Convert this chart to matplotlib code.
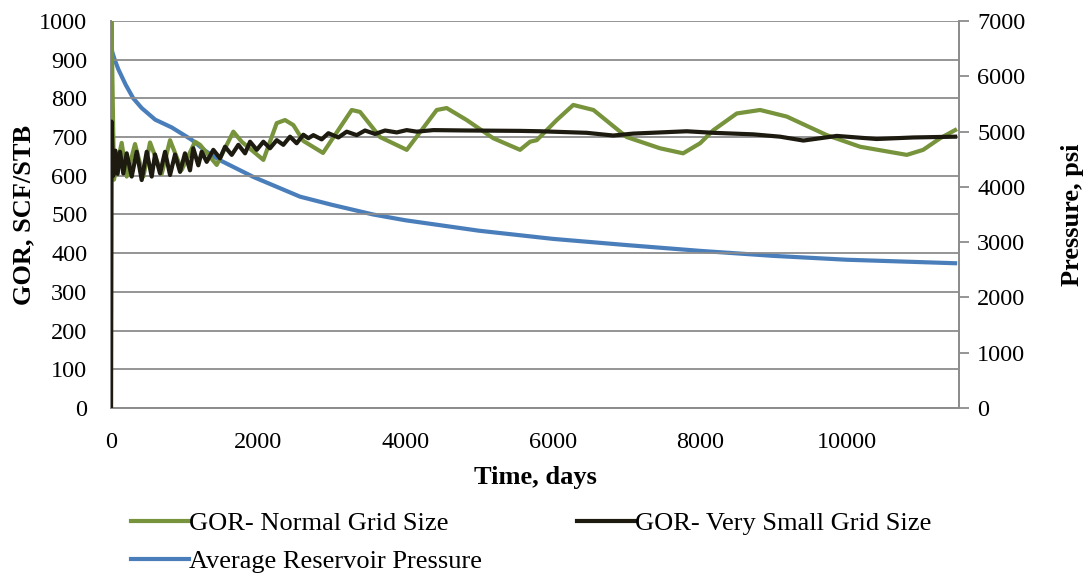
import matplotlib
matplotlib.use("Agg")
import matplotlib.pyplot as plt

plt.rcParams['font.family'] = ['Liberation Serif', 'DejaVu Serif']

# GOR - normal grid size (days, SCF/STB)
t_normal = [0, 3, 40, 145, 213, 326, 440, 530, 689, 802, 960, 1141, 1209, 1436,
            1662, 1775, 2070, 2251, 2364, 2477, 2613, 2880, 3270, 3383, 3655,
            4018, 4425, 4560, 4832, 5193, 5557, 5693, 5784, 6055, 6280, 6554,
            7006, 7459, 7772, 8003, 8184, 8501, 8818, 9180, 9724, 10177, 10811,
            11033, 11264, 11467]
gor_normal = [0, 1050, 590, 685, 598, 682, 598, 686, 605, 692, 615, 688, 680, 628,
              714, 688, 641, 736, 744, 731, 690, 659, 770, 765, 700,
              667, 770, 775, 744, 697, 667, 688, 692, 744, 783, 770,
              700, 671, 658, 684, 718, 761, 770, 753, 705, 675, 654,
              667, 697, 718]

# GOR - very small grid size
t_small = [0, 8, 30, 60, 90, 122, 167, 213, 281, 349, 417, 485, 553, 598, 666,
           734, 802, 870, 938, 1005, 1073, 1118, 1186, 1232, 1300, 1390, 1481,
           1549, 1640, 1730, 1821, 1889, 1980, 2070, 2160, 2251, 2341, 2432,
           2522, 2613, 2681, 2749, 2862, 2953, 3089, 3202, 3338, 3451, 3587,
           3723, 3881, 4017, 4153, 4380, 4832, 5557, 5829, 6463, 6823, 7095,
           7821, 8184, 8727, 9090, 9406, 9860, 10403, 10901, 11467]
gor_small = [0, 740, 600, 665, 605, 662, 606, 658, 598, 662, 589, 662, 598, 655, 606,
             662, 602, 655, 610, 658, 614, 671, 627, 662, 636, 667, 645,
             675, 654, 680, 658, 688, 667, 688, 671, 692, 680, 701,
             684, 706, 697, 705, 694, 710, 699, 714, 705, 717, 708,
             717, 712, 718, 714, 718, 717, 716, 715, 711, 704, 709,
             715, 711, 707, 701, 691, 703, 695, 699, 701]

# Average reservoir pressure (psi)
t_press = [0, 50, 100, 200, 303, 417, 600, 824, 1096, 1277, 1481, 1934, 2568,
           3000, 3560, 4000, 5000, 6000, 7000, 8000, 9000, 10000, 11467]
pressure = [6510, 6300, 6125, 5845, 5600, 5425, 5215, 5075, 4851, 4655, 4480,
            4179, 3822, 3675, 3500, 3395, 3206, 3059, 2947, 2842, 2751, 2681, 2618]

green = '#77933C'
black = '#1D1B10'
blue = '#4A7EBB'
grid_c = '#8C8C8C'

fig = plt.figure(figsize=(10.83, 5.73), dpi=100)
ax = fig.add_axes([0.1025, 0.288, 0.783, 0.6754])
ax2 = ax.twinx()

lw = 3.0
l1, = ax.plot(t_normal, gor_normal, color=green, lw=lw, label='GOR- Normal Grid Size', zorder=3)
l2, = ax.plot(t_small, gor_small, color=black, lw=lw, label='GOR- Very Small Grid Size', zorder=4)
l3, = ax2.plot(t_press, pressure, color=blue, lw=lw, label='Average Reservoir Pressure')

ax.set_zorder(ax2.get_zorder() + 1)
ax.patch.set_visible(False)

ax.set_xlim(0, 11520)
ax.set_ylim(0, 1000)
ax2.set_ylim(0, 7000)
ax.set_xticks(range(0, 11000, 2000))
ax.set_yticks(range(0, 1001, 100))
ax2.set_yticks(range(0, 7001, 1000))

ax.grid(axis='y', color=grid_c, lw=1.3)
ax.set_axisbelow(True)

for a in (ax, ax2):
    for s in a.spines.values():
        s.set_color(grid_c)
        s.set_linewidth(1.3)
    a.spines['top'].set_visible(False)

ax.tick_params(axis='y', length=0, labelsize=17.5, pad=17)
ax.tick_params(axis='x', length=0, labelsize=17.5, pad=17)
ax2.tick_params(axis='y', length=7, color=grid_c, width=1.3, labelsize=17.5, pad=6)

ax.set_xlabel('Time, days', fontsize=19, fontweight='bold', labelpad=10)
ax.set_ylabel('GOR, SCF/STB', fontsize=19, fontweight='bold', labelpad=3)
ax2.set_ylabel('Pressure, psi', fontsize=19, fontweight='bold', labelpad=26)

fig.legend([l1, l3, l2], [l1.get_label(), l3.get_label(), l2.get_label()],
           loc='upper left', bbox_to_anchor=(0.111, 0.125), ncol=2, frameon=False,
           fontsize=19, handlelength=2.2, handletextpad=0.0, columnspacing=3.6,
           labelspacing=0.55, borderaxespad=0)

fig.savefig('out.png', dpi=100)
